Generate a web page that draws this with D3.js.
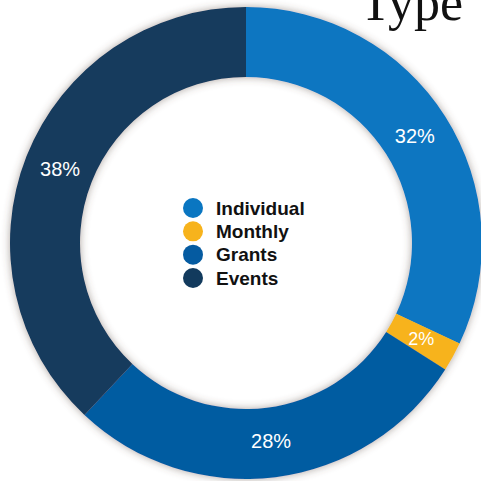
<!DOCTYPE html>
<html><head><meta charset="utf-8">
<script src="https://cdn.jsdelivr.net/npm/d3@7"></script>
<style>html,body{margin:0;padding:0;background:#fff;}svg{display:block;}</style>
</head><body>
<svg id="chart" width="481" height="481"></svg>
<script>
const categories = ["Individual", "Monthly", "Grants", "Events"];
const values = [32, 2, 28, 38];
const colors = ["#0A76C1", "#F7B31C", "#055BA1", "#123A5D"];
const labels = ["32%", "2%", "28%", "38%"];
const titleText = "Type";

const svg = d3.select("#chart");
const cx = 246, cy = 243, rOuter = 236, rInner = 166;

const defs = svg.append("defs");
const f = defs.append("filter").attr("id","shadow").attr("x","-20%").attr("y","-20%").attr("width","140%").attr("height","140%");
f.append("feGaussianBlur").attr("in","SourceAlpha").attr("stdDeviation",4).attr("result","b");
f.append("feComponentTransfer").attr("in","b").attr("result","b2")
  .append("feFuncA").attr("type","linear").attr("slope",0.5);
f.append("feFlood").attr("flood-color","#5a4a40").attr("result","c");
f.append("feComposite").attr("in","c").attr("in2","b2").attr("operator","in").attr("result","s");
const m = f.append("feMerge");
m.append("feMergeNode").attr("in","s");
m.append("feMergeNode").attr("in","SourceGraphic");

const pie = d3.pie().sort(null).value(d => d);
const arcs = pie(values);
const arc = d3.arc().innerRadius(rInner).outerRadius(rOuter);
const labelArc = d3.arc().innerRadius(200).outerRadius(200);

const g = svg.append("g").attr("transform", `translate(${cx},${cy})`);
const ring = g.append("g").attr("filter","url(#shadow)");
ring.selectAll("path").data(arcs).join("path")
  .attr("d", arc).attr("fill", (d,i) => colors[i]);

g.selectAll("text.lbl").data(arcs).join("text").attr("class","lbl")
  .attr("transform", d => `translate(${labelArc.centroid(d)})`)
  .attr("text-anchor","middle").attr("dominant-baseline","central")
  .attr("font-family","Liberation Sans, Arial, sans-serif")
  .attr("font-size", (d,i) => values[i] < 5 ? 18 : 20)
  .attr("fill","#fff")
  .text((d,i) => labels[i]);

// legend
const y = d3.scalePoint().domain(categories).range([208, 278]);
const leg = svg.append("g");
leg.selectAll("circle").data(categories).join("circle")
  .attr("cx", 193).attr("cy", d => y(d)).attr("r", 10)
  .attr("fill", (d,i) => colors[i]);
leg.selectAll("text").data(categories).join("text")
  .attr("x", 216).attr("y", d => y(d)).attr("dominant-baseline","central")
  .attr("font-family","Liberation Sans, Arial, sans-serif").attr("font-weight","bold")
  .attr("font-size", 19).attr("fill","#111")
  .text(d => d);

svg.append("text").attr("x", 463).attr("y", 20).attr("text-anchor","end")
  .attr("font-family","Liberation Serif, Times New Roman, serif")
  .attr("font-size", 52).attr("fill","#111").text(titleText);
</script>
</body></html>
